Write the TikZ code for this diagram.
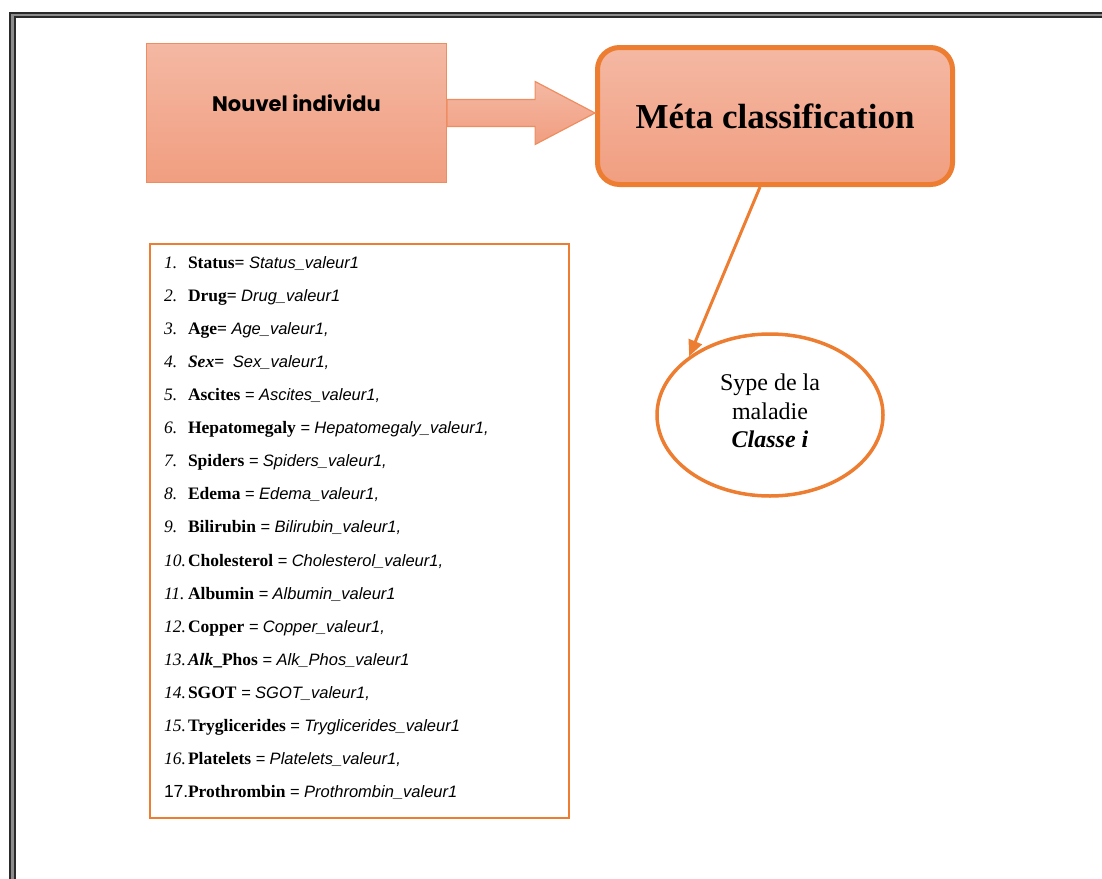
\documentclass[tikz,border=0pt]{standalone}
\usepackage{fontspec}
\setmainfont{Liberation Serif}
\newfontfamily\valfont{Liberation Sans}
\newfontfamily\headfont{Poppins}
\usetikzlibrary{calc,arrows.meta,shapes.geometric}

\definecolor{accent}{HTML}{ED7D31}
\definecolor{softedge}{HTML}{EE8E60}
\definecolor{saltop}{HTML}{F4B8A3}
\definecolor{salbot}{HTML}{F19E80}
\definecolor{frameink}{HTML}{2A2A2A}

% one line of the attribute list: number, attribute name, value
\newcommand{\attrnum}[1]{\makebox[24pt][l]{\itshape #1}}
\newcommand{\attrval}[1]{{\valfont\itshape\fontsize{16.5}{33.1}\selectfont #1}}

\begin{document}
\begin{tikzpicture}[x=1pt,y=-1pt,
  srcbox/.style={draw=softedge, line width=1.2pt, top color=saltop, bottom color=salbot,
    minimum width=300pt, minimum height=139pt, inner sep=0pt,
    font=\headfont\bfseries\fontsize{21}{25}\selectfont},
  metabox/.style={draw=accent, line width=5pt, rounded corners=22pt,
    top color=saltop, bottom color=salbot, minimum width=355pt, minimum height=137pt,
    font=\bfseries\fontsize{35}{40}\selectfont},
  blockarrow/.style={draw=softedge, line width=1.2pt, top color=saltop, bottom color=salbot},
  conn/.style={draw=accent, line width=3pt, -{Triangle[length=16pt,width=14pt]}},
  result/.style={ellipse, draw=accent, line width=3.5pt, minimum width=226pt,
    minimum height=162pt, align=center, font=\fontsize{24}{28.5}\selectfont},
  listbox/.style={draw=accent, line width=2pt, anchor=north west, minimum width=419pt,
    minimum height=574pt, inner xsep=14pt, inner ysep=0pt,
    font=\fontsize{17.5}{33.1}\selectfont},
]
\useasboundingbox (0,0) rectangle (1102,878);
\clip (0,0) rectangle (1102,878);

% double page border with a grey core
\draw[black!45, line width=6pt] (12.2,14.7) rectangle (1300,1100);
\draw[frameink, line width=2pt] (10,12.5) rectangle (1300,1100);
\draw[frameink, line width=2pt] (14.5,16.5) rectangle (1300,1100);

% input box and classifier
\node[srcbox] (src) at (296.5,113) {\raisebox{20pt}{Nouvel individu}};
\node[metabox] (meta) at (775,116) {Méta classification};

% wide block arrow from the input to the classifier
\path[blockarrow]
  ($(src.east)+(0,-13.5)$) -- ($(src.east)+(88,-13.5)$) -- ($(src.east)+(88,-31.5)$)
  -- (meta.west |- src.east)
  -- ($(src.east)+(88,31.5)$) -- ($(src.east)+(88,13.5)$) -- ($(src.east)+(0,13.5)$) -- cycle;

% predicted class
\node[result] (res) at (770,415) {\raisebox{8pt}{Sype de la}\\\raisebox{8pt}{maladie}\\\raisebox{8pt}{\textbf{\textit{Classe i}}}};
\draw[conn] ($(meta.south)+(-15,0)$) -- (res.144);

% attribute list (extra depth below lifts the lines slightly inside the frame)
\node[listbox] (list) at (149,243) {\raisebox{0pt}[\height][\dimexpr\depth+6pt\relax]{\parbox{391pt}{\raggedright
\attrnum{1.}\textbf{Status=} \attrval{Status\_valeur1}\\
\attrnum{2.}\textbf{Drug=} \attrval{Drug\_valeur1}\\
\attrnum{3.}\textbf{Age=} \attrval{Age\_valeur1,}\\
\attrnum{4.}\textbf{\textit{Sex}=}\ \ \attrval{Sex\_valeur1,}\\
\attrnum{5.}\textbf{Ascites} \attrval{= Ascites\_valeur1,}\\
\attrnum{6.}\textbf{Hepatomegaly} \attrval{= Hepatomegaly\_valeur1,}\\
\attrnum{7.}\textbf{Spiders} \attrval{= Spiders\_valeur1,}\\
\attrnum{8.}\textbf{Edema} \attrval{= Edema\_valeur1,}\\
\attrnum{9.}\textbf{Bilirubin} \attrval{= Bilirubin\_valeur1,}\\
\attrnum{10.}\textbf{Cholesterol} \attrval{= Cholesterol\_valeur1,}\\
\attrnum{11.}\textbf{Albumin} \attrval{= Albumin\_valeur1}\\
\attrnum{12.}\textbf{Copper} \attrval{= Copper\_valeur1,}\\
\attrnum{13.}\textbf{\textit{Alk}\_Phos} \attrval{= Alk\_Phos\_valeur1}\\
\attrnum{14.}\textbf{SGOT} \attrval{= SGOT\_valeur1,}\\
\attrnum{15.}\textbf{Tryglicerides} \attrval{= Tryglicerides\_valeur1}\\
\attrnum{16.}\textbf{Platelets} \attrval{= Platelets\_valeur1,}\\
\makebox[24pt][l]{\valfont 17.}\textbf{Prothrombin} \attrval{= Prothrombin\_valeur1}}}};
\end{tikzpicture}
\end{document}
